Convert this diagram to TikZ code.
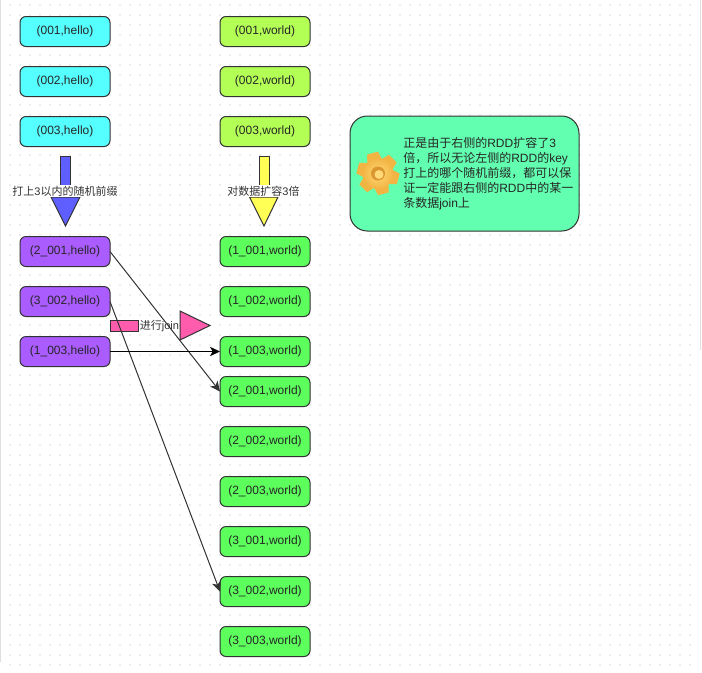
\documentclass[tikz,border=0pt]{standalone}
\usepackage{fontspec}
\setmainfont{Liberation Sans}
\newfontfamily\cjkfont{Noto Sans CJK SC}
\newcommand{\zh}[1]{{\cjkfont #1}}
\usetikzlibrary{arrows.meta}
\definecolor{cyanfill}{HTML}{55FFFF}
\definecolor{limefill}{HTML}{B3FF55}
\definecolor{purplefill}{HTML}{AA5CFF}
\definecolor{greenfill}{HTML}{5CFF5C}
\definecolor{notefill}{HTML}{62FFB0}
\definecolor{bluefill}{HTML}{5F5FFF}
\definecolor{yellowfill}{HTML}{FFFF55}
\definecolor{pinkfill}{HTML}{FF5CAD}
\definecolor{edgegray}{HTML}{333333}
\definecolor{griddot}{HTML}{EDEDED}
\definecolor{gearmid}{HTML}{F2B544}
\definecolor{gearlight}{HTML}{FFD978}
\definecolor{geardark}{HTML}{DB9630}
\tikzset{
  x=0.75pt,y=-0.75pt,
  databox/.style={draw=edgegray,line width=0.75pt,rounded corners=4.5pt,minimum width=67.5pt,minimum height=22.5pt,inner sep=0pt,outer sep=0pt,font=\fontsize{9}{11}\selectfont,text=black!85},
  cyanbox/.style={databox,fill=cyanfill},
  limebox/.style={databox,fill=limefill},
  purplebox/.style={databox,fill=purplefill},
  greenbox/.style={databox,fill=greenfill},
  blockarrow/.style={draw=edgegray,line width=0.75pt},
  blocklabel/.style={fill=white,inner xsep=0.5pt,inner ysep=1pt,font=\fontsize{8.25}{10}\selectfont,text=black!80},
  link/.style={draw=edgegray,line width=0.75pt,-{Stealth[inset=2pt,length=7.5pt,width=7pt]}},
}
\begin{document}
\begin{tikzpicture}
\useasboundingbox (0,0) rectangle (702,672);
\fill[white] (0,0) rectangle (702,672);
% dotted canvas
\foreach \px in {10,20,...,690}
  \foreach \py in {5,15,...,665}
    \fill[griddot] (\px-0.6,\py-0.6) rectangle (\px+0.6,\py+0.6);
\fill[black!13] (0,0) rectangle (1.2,662);
\fill[black!13] (699.5,0) rectangle (701,350);

% source rows
\node[cyanbox] (h1) at (65,31.5) {(001,hello)};
\node[cyanbox] (h2) at (65,81.5) {(002,hello)};
\node[cyanbox] (h3) at (65,131.5) {(003,hello)};
\node[limebox] (w1) at (265,31.5) {(001,world)};
\node[limebox] (w2) at (265,81.5) {(002,world)};
\node[limebox] (w3) at (265,131.5) {(003,world)};

% prefixed rows
\node[purplebox] (p2) at (65,251.5) {(2\_001,hello)};
\node[purplebox] (p3) at (65,301.5) {(3\_002,hello)};
\node[purplebox] (p1) at (65,351.5) {(1\_003,hello)};

\node[greenbox] (a1) at (265,251.5) {(1\_001,world)};
\node[greenbox] (a2) at (265,301.5) {(1\_002,world)};
\node[greenbox] (a3) at (265,351.5) {(1\_003,world)};
\node[greenbox] (b1) at (265,391.5) {(2\_001,world)};
\node[greenbox] (b2) at (265,441.5) {(2\_002,world)};
\node[greenbox] (b3) at (265,491.5) {(2\_003,world)};
\node[greenbox] (c1) at (265,541.5) {(3\_001,world)};
\node[greenbox] (c2) at (265,591.5) {(3\_002,world)};
\node[greenbox] (c3) at (265,641.5) {(3\_003,world)};

% block arrows
\draw[blockarrow,fill=bluefill] (60,156) rectangle (70.5,190);
\draw[blockarrow,fill=bluefill] (51,197) -- (80,197) -- (65.5,226) -- cycle;
\node[blocklabel] (lblblue) at (65,191) {\zh{打上}3\zh{以内的随机前缀}};

\draw[blockarrow,fill=yellowfill] (259,156) rectangle (269,190);
\draw[blockarrow,fill=yellowfill] (249.5,197) -- (278,197) -- (264,226) -- cycle;
\node[blocklabel] (lblyellow) at (263.5,191) {\zh{对数据扩容}3\zh{倍}};

\draw[blockarrow,fill=pinkfill] (110,320.5) rectangle (138.5,331);
\draw[blockarrow,fill=pinkfill] (180,311) -- (210,325.5) -- (180,340) -- cycle;
\node[blocklabel,inner xsep=0.3pt] (lblpink) at (159.5,326) {\zh{进行}join};

% connectors
\draw[link] (p2.east) -- (b1.west);
\draw[link] (p3.east) -- (c2.west);
\draw[link,draw=black] (p1.east) -- (a3.west);

% note
\node[draw=edgegray,fill=notefill,line width=0.75pt,rounded corners=13pt,minimum width=171.75pt,minimum height=86.25pt,inner sep=0pt,outer sep=0pt] (note) at (464.5,173.5) {};
\node[anchor=west,inner sep=0pt,align=left,font=\fontsize{9}{11.25}\selectfont,text=black!85] (notetext) at (403,174) {%
\zh{正是由于右侧的}RDD\zh{扩容了}3\\
\zh{倍，所以无论左侧的}RDD\zh{的}key\\
\zh{打上的哪个随机前缀，都可以保}\\
\zh{证一定能跟右侧的}RDD\zh{中的某一}\\
\zh{条数据}join\zh{上}};

% gear icon
\begin{scope}[shift={(378,173.5)}]
  \foreach \ang in {15,75,...,375}
    \fill[rotate=\ang,fill=gearmid] (-5.5,-21) -- (5.5,-21) -- (8,-10) -- (-8,-10) -- cycle;
  \shade[inner color=gearlight,outer color=gearmid] (0,0) circle (15.5);
  \fill[geardark] (0,0) circle (7);
  \fill[gearlight] (1,1) circle (4.5);
\end{scope}
\end{tikzpicture}
\end{document}
